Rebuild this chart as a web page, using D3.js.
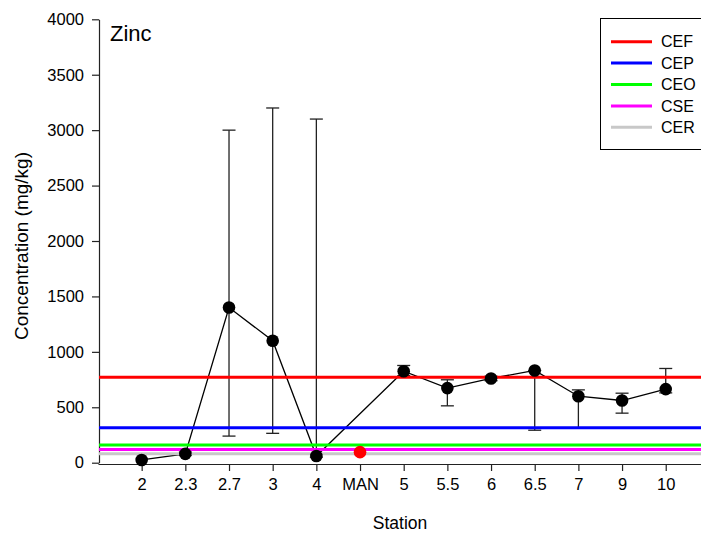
<!DOCTYPE html>
<html>
<head>
<meta charset="utf-8">
<script src="https://cdn.jsdelivr.net/npm/d3@7"></script>
<style>
    body { margin: 0; background: #fff; }
    text { font-family: "Liberation Sans", Arial, sans-serif; }
</style>
</head>
<body>
<svg id="chart" width="701" height="535"></svg>
<script>
// stations along the river
var stations = ["2", "2.3", "2.7", "3", "4", "MAN", "5", "5.5", "6", "6.5", "7", "9", "10"];
var zinc =     [25, 80, 1400, 1100, 60, 95, 825, 673, 760, 832, 600, 561, 664];
var zincLow =  [25, 65, 240, 265, 50, 95, 785, 513, 740, 293, 315, 447, 630];
var zincHigh = [25, 95, 3000, 3200, 3100, 95, 877, 748, 780, 832, 657, 627, 850];

// sediment quality criteria
var critNames = ["CEF", "CEP", "CEO", "CSE", "CER"];
var critValues = [770, 315, 160, 120, 80];
var critColors = ["#ff0000", "#0000ff", "#00ff00", "#ff00ff", "#c8c8c8"];

var yTicks = [0, 500, 1000, 1500, 2000, 2500, 3000, 3500, 4000];

var svg = d3.select("svg#chart");

var x = d3.scaleLinear()
    .domain([-1, 13])
    .range([98, 709.4]);

var y = d3.scaleLinear()
    .domain([0, 4000])
    .range([462.7, 19.3]);

// axes
var yAxis = svg.append("g")
    .attr("transform", "translate(" + 99 + ",0)")
    .call(d3.axisLeft(y)
        .tickValues(yTicks)
        .tickFormat(d3.format("d"))
        .tickSize(7)
        .tickSizeOuter(0)
        .tickPadding(8));

var xAxis = svg.append("g")
    .attr("transform", "translate(0,464)")
    .call(d3.axisBottom(x)
        .tickValues(d3.range(stations.length))
        .tickFormat(function(d) { return stations[d]; })
        .tickSize(7)
        .tickSizeOuter(0)
        .tickPadding(7));

[yAxis, xAxis].forEach(function(a) {
    a.selectAll("path, line").attr("stroke", "#222").attr("stroke-width", 1.2);
    a.selectAll("text").attr("fill", "#000").style("font-size", "16.5px")
        .style("font-family", "'Liberation Sans', Arial, sans-serif");
});

// error bars
var idx = d3.range(stations.length);
var bars = svg.selectAll(".err")
    .data(idx.filter(function(i) { return zincHigh[i] - zincLow[i] > 0; }))
    .enter().append("g")
    .attr("class", "err")
    .attr("stroke", "#222")
    .attr("stroke-width", 1.3);

bars.append("line")
    .attr("x1", function(i) { return x(i); })
    .attr("x2", function(i) { return x(i); })
    .attr("y1", function(i) { return y(zincLow[i]); })
    .attr("y2", function(i) { return y(zincHigh[i]); });

bars.append("line")
    .attr("x1", function(i) { return x(i) - 6.5; })
    .attr("x2", function(i) { return x(i) + 6.5; })
    .attr("y1", function(i) { return y(zincHigh[i]); })
    .attr("y2", function(i) { return y(zincHigh[i]); });

bars.append("line")
    .attr("x1", function(i) { return x(i) - 6.5; })
    .attr("x2", function(i) { return x(i) + 6.5; })
    .attr("y1", function(i) { return y(zincLow[i]); })
    .attr("y2", function(i) { return y(zincLow[i]); });

// line joining stations (MAN not on the river line)
var river = idx.filter(function(i) { return stations[i] !== "MAN"; });
var line = d3.line()
    .x(function(i) { return x(i); })
    .y(function(i) { return y(zinc[i]); });

svg.append("path")
    .datum(river)
    .attr("d", line)
    .attr("fill", "none")
    .attr("stroke", "#000")
    .attr("stroke-width", 1.3);

// criteria lines
svg.selectAll(".crit")
    .data(critValues)
    .enter().append("line")
    .attr("class", "crit")
    .attr("x1", x(-1) + 1)
    .attr("x2", 701)
    .attr("y1", function(d) { return y(d); })
    .attr("y2", function(d) { return y(d); })
    .attr("stroke", function(d, i) { return critColors[i]; })
    .attr("stroke-width", 3);

svg.selectAll(".pt")
    .data(idx)
    .enter().append("circle")
    .attr("class", "pt")
    .attr("cx", function(i) { return x(i); })
    .attr("cy", function(i) { return y(zinc[i]); })
    .attr("r", 6.3)
    .attr("fill", function(i) { return stations[i] === "MAN" ? "#ff0000" : "#000"; });

// titles
svg.append("text")
    .attr("x", 110)
    .attr("y", 41)
    .style("font-size", "22px")
    .text("Zinc");

svg.append("text")
    .attr("x", 400)
    .attr("y", 529)
    .attr("text-anchor", "middle")
    .style("font-size", "17.5px")
    .text("Station");

svg.append("text")
    .attr("transform", "translate(28,246) rotate(-90)")
    .attr("text-anchor", "middle")
    .style("font-size", "19px")
    .text("Concentration (mg/kg)");

// legend
var lg = svg.append("g");
lg.append("rect")
    .attr("x", 600.5)
    .attr("y", 18.5)
    .attr("width", 120)
    .attr("height", 131)
    .attr("fill", "#fff")
    .attr("stroke", "#000")
    .attr("stroke-width", 1);

var items = lg.selectAll(".item")
    .data(critNames)
    .enter().append("g")
    .attr("transform", function(d, i) { return "translate(611," + (41.7 + i * 21.4) + ")"; });

items.append("line")
    .attr("x1", 0)
    .attr("x2", 41)
    .attr("stroke", function(d, i) { return critColors[i]; })
    .attr("stroke-width", 3);

items.append("text")
    .attr("x", 50)
    .attr("dy", "0.36em")
    .style("font-size", "16px")
    .text(function(d) { return d; });
</script>
</body>
</html>
